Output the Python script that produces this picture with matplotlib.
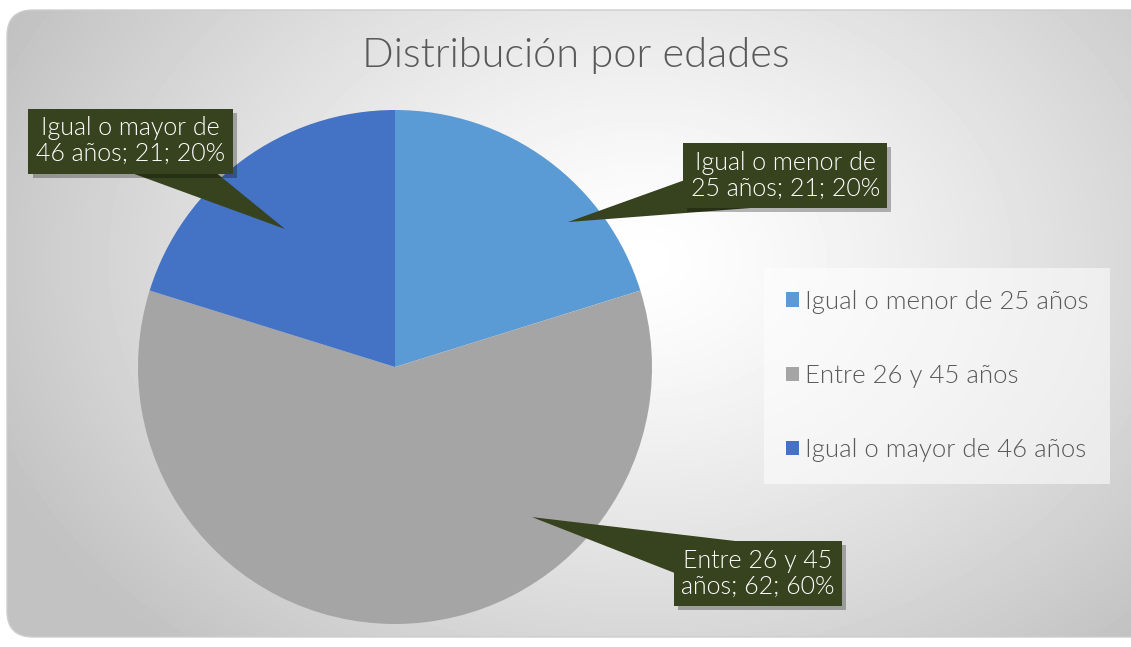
import numpy as np
import matplotlib
matplotlib.use("Agg")
import matplotlib.pyplot as plt
from matplotlib.patches import FancyBboxPatch
import matplotlib.patheffects as pe

plt.rcParams['font.family'] = ['Lato', 'DejaVu Sans']

# ----------------------------------
# data
# ----------------------------------
categories = ["Igual o menor de 25 años", "Entre 26 y 45 años", "Igual o mayor de 46 años"]
values = [21, 62, 21]
percents = [20, 60, 20]
callout_labels = [
    "Igual o menor de\n25 años; 21; 20%",
    "Entre 26 y 45\naños; 62; 60%",
    "Igual o mayor de\n46 años; 21; 20%",
]
colors = ["#5B9BD5", "#A5A5A5", "#4472C4"]
title = "Distribución por edades"

# callout layout (pie data units, radius = 1)
box_pos = [(1.518, 0.745), (1.412, -0.804), (-1.029, 0.879)]
tip_pos = [(0.673, 0.564), (0.533, -0.584), (-0.428, 0.537)]

W, H = 1131, 647
fig = plt.figure(figsize=(W / 100, H / 100), dpi=100)
fig.patch.set_facecolor("white")

# ----------------------------------
# background: rounded rect with radial gradient
# ----------------------------------
bg = fig.add_axes([0, 0, 1, 1])
bg.set_xlim(0, W)
bg.set_ylim(H, 0)
bg.axis("off")
yy, xx = np.mgrid[0:H, 0:W]
d = np.sqrt(((xx - 640) / 700.0) ** 2 + ((yy - 260) / 520.0) ** 2)
d = np.clip(d, 0, 1)
shade = 1.0 - 0.24 * d ** 1.3
img = bg.imshow(shade, cmap="gray", vmin=0, vmax=1, extent=(0, W, H, 0), zorder=1)
rect = FancyBboxPatch((7, 10), W + 20, 627, boxstyle="round,pad=0,rounding_size=26",
                      transform=bg.transData, facecolor="none", edgecolor="#CDCDCD", lw=1.0, zorder=2)
bg.add_patch(rect)
img.set_clip_path(rect)

# ----------------------------------
# pie
# ----------------------------------
cx, cy, r = 395, 367, 257
ax = fig.add_axes([(cx - r) / W, (H - cy - r) / H, 2 * r / W, 2 * r / H])
ax.set_facecolor("none")
ax.pie(values, colors=colors, startangle=90, counterclock=False, radius=1,
       wedgeprops=dict(linewidth=0))
ax.set_xlim(-1, 1)
ax.set_ylim(-1, 1)
ax.set_aspect("equal")
ax.axis("off")

shadow = [pe.SimplePatchShadow(offset=(3, -3), shadow_rgbFace="black", alpha=0.28), pe.Normal()]
for lab, bp, tp in zip(callout_labels, box_pos, tip_pos):
    ann = ax.annotate(lab, xy=tp, xytext=bp, ha="center", va="center",
                      fontsize=18, color="white", fontweight=300,
                      linespacing=1.1, annotation_clip=False,
                      bbox=dict(boxstyle="square,pad=0.3", fc="#37421E", ec="none"),
                      arrowprops=dict(arrowstyle="wedge,tail_width=2.4,shrink_factor=0.5",
                                      fc="#37421E", ec="none", patchA=None,
                                      shrinkA=0, shrinkB=0))
    ann.get_bbox_patch().set_path_effects(shadow)

# ----------------------------------
# title & legend
# ----------------------------------
fig.text(576 / W, 1 - 56 / H, title, ha="center", va="center",
         fontsize=30, color="#595959", fontweight=300)

handles = [plt.Rectangle((0, 0), 1, 1, fc=c, ec="none") for c in colors]
leg = fig.legend(handles, categories, loc="upper left",
                 bbox_to_anchor=(764 / W, 1 - 268 / H),
                 prop=dict(size=18.5, weight=300), frameon=True, fancybox=False,
                 borderpad=0.85, labelspacing=1.95, handlelength=0.5, handleheight=0.5,
                 handletextpad=0.25, borderaxespad=0)
leg.get_frame().set_facecolor("white")
leg.get_frame().set_alpha(0.55)
leg.get_frame().set_edgecolor("none")
for t in leg.get_texts():
    t.set_color("#595959")

fig.savefig("out.png", dpi=100)
